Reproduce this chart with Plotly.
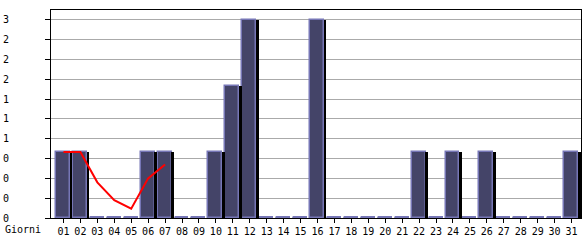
import plotly.graph_objects as go
import numpy as np

days = list(range(1, 32))
day_labels = [f"{d:02d}" for d in days]
visits = [1, 1, 0, 0, 0, 1, 1, 0, 0, 1, 2, 3, 0, 0, 0, 3, 0, 0, 0, 0, 0, 1, 0, 1, 0, 1, 0, 0, 0, 0, 1]
trend_days = [1, 2, 3, 4, 5, 6, 7]
trend_values = [1.0, 1.0, 0.54, 0.27, 0.14, 0.6, 0.81]
y_tick_vals = [0, 0.3, 0.6, 0.9, 1.2, 1.5, 1.8, 2.1, 2.4, 2.7, 3.0]
y_tick_text = ["0", "0", "0", "0", "1", "1", "1", "2", "2", "2", "3"]
x_title = "Giorni"

FILL = "#444468"
EDGE = "#7676b6"
FONT = dict(family="DejaVu Sans Mono", size=10, color="#000000")

W, H = 585, 240
L, R, T, B = 50, 3, 10, 20
pw = W - L - R
ph = H - T - B
px_per_unit = 17.0
c0 = 62.5  # pixel centre of first day
x_lo = 1 + (L - c0) / px_per_unit
x_hi = 1 + (W - R - c0) / px_per_unit

vals = np.array(visits, dtype=float)
zero_mark = np.where(vals == 0, 0.025, np.nan)

fig = go.Figure()
# main bars
fig.add_trace(go.Bar(
    x=days, y=visits, offset=-7.5 / px_per_unit, width=14 / px_per_unit,
    marker=dict(color=FILL, line=dict(color=EDGE, width=1.5)),
    hoverinfo="skip", showlegend=False))
# right-hand shadow
fig.add_trace(go.Bar(
    x=days, y=visits, offset=6.2 / px_per_unit, width=2.8 / px_per_unit,
    marker=dict(color="#000000", line=dict(width=0)),
    hoverinfo="skip", showlegend=False))
# zero markers
fig.add_trace(go.Bar(
    x=days, y=zero_mark, offset=-7.5 / px_per_unit, width=14 / px_per_unit,
    marker=dict(color=EDGE, line=dict(width=0)),
    hoverinfo="skip", showlegend=False))
# trend line
fig.add_trace(go.Scatter(
    x=trend_days, y=trend_values, mode="lines",
    line=dict(color="#ff0000", width=2),
    hoverinfo="skip", showlegend=False))

fig.update_layout(
    width=W, height=H,
    margin=dict(l=L, r=R, t=T, b=B, pad=0),
    paper_bgcolor="#ffffff", plot_bgcolor="#ffffff",
    barmode="overlay", bargap=0,
    font=FONT,
    xaxis=dict(
        range=[x_lo, x_hi], tickmode="array", tickvals=days, ticktext=day_labels,
        showgrid=False, zeroline=False, showline=True, linecolor="#000000",
        linewidth=1, mirror=True, ticks="outside", ticklen=4, tickcolor="#000000",
        tickfont=FONT, fixedrange=True),
    yaxis=dict(
        range=[0, 3.15], tickmode="array", tickvals=y_tick_vals, ticktext=y_tick_text,
        showgrid=True, gridcolor="#aaaaaa", gridwidth=1, zeroline=False,
        showline=True, linecolor="#000000", linewidth=1, mirror=True,
        ticks="outside", ticklen=5, tickcolor="#000000", tickfont=FONT,
        ticklabelstandoff=34, fixedrange=True),
    annotations=[dict(
        text=x_title, xref="paper", yref="paper",
        x=(2 - L) / pw, y=(H - B - 232) / ph, xanchor="left", yanchor="middle",
        showarrow=False, font=FONT)],
)

fig.write_html("out.html", config={"displayModeBar": False})
